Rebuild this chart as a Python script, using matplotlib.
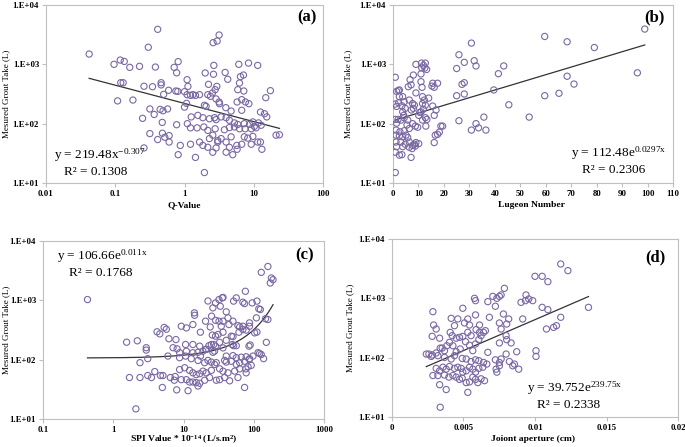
import matplotlib
matplotlib.use("Agg")
import matplotlib.pyplot as plt
import numpy as np
from matplotlib.ticker import NullLocator, FixedLocator

plt.rcParams['font.family'] = ['Liberation Serif', 'DejaVu Serif']
plt.rcParams['mathtext.fontset'] = 'custom'
plt.rcParams['mathtext.rm'] = 'Liberation Serif'
plt.rcParams['mathtext.it'] = 'Liberation Serif:italic'
plt.rcParams['mathtext.bf'] = 'Liberation Serif:bold'

# ---------------- data ----------------
# (a) Q-Value vs grout take
q_value = [
    0.042, 0.41, 0.30, 0.096, 0.118, 0.135, 0.162, 0.224, 0.38, 0.71,
    0.77, 0.81, 0.12, 0.13, 0.108, 0.18, 0.26, 0.345, 0.46, 0.46,
    0.59, 0.50, 0.75, 0.80, 0.316, 0.365, 0.445, 0.49, 0.57, 0.248,
    0.477, 0.77, 0.316, 0.48, 0.41, 0.52, 0.60, 0.60, 0.26, 0.81,
    3.16, 2.96, 2.59, 6.08, 8.4, 11.4, 2.65, 1.99, 2.62, 3.86,
    4.21, 6.43, 7.1, 6.22, 5.88, 7.18, 2.93, 2.77, 2.22, 1.09,
    1.12, 1.0, 17.4, 14.9, 1.09, 1.22, 1.32, 1.44, 1.65, 2.17,
    2.37, 2.53, 2.86, 3.16, 3.2, 5.75, 6.7, 7.6, 8.5, 1.94,
    2.05, 3.95, 4.71, 6.7, 12.5, 14.3, 15.4, 1.25, 1.56, 1.84,
    2.29, 2.71, 2.86, 3.38, 3.99, 4.45, 5.26, 5.88, 7.3, 8.7,
    9.7, 10.2, 11.7, 12.8, 1.22, 1.52, 1.90, 2.17, 2.77, 3.77,
    4.45, 5.26, 6.22, 7.5, 9.2, 10.8, 2.56, 2.29, 3.02, 3.38,
    4.71, 7.3, 8.2, 9.7, 21.0, 23.5, 1.22, 1.65, 1.84, 2.17,
    2.86, 3.02, 3.99, 4.45, 5.69, 6.7, 9.2, 11.4, 12.5, 13.1,
    2.56, 3.99, 4.97, 5.75, 1.44, 1.94, 0.87, 1.0, 1.1, 1.07,
]
grout_a = [
    1490, 3890, 1940, 1000, 1180, 1120, 890, 925, 900, 890,
    720, 1110, 490, 490, 242, 250, 427, 420, 490, 450,
    365, 312, 355, 350, 177, 143, 174, 165, 177, 123,
    105, 96, 68, 69, 54, 59, 63, 49, 39, 30,
    3120, 2470, 2320, 1000, 1050, 960, 960, 715, 680, 730,
    560, 620, 660, 484, 374, 355, 425, 374, 460, 550,
    425, 346, 360, 274, 308, 300, 308, 300, 308, 308,
    289, 329, 261, 232, 217, 232, 254, 232, 217, 204,
    196, 186, 163, 168, 157, 147, 130, 130, 138, 126,
    121, 126, 117, 130, 126, 114, 103, 97, 100, 97,
    107, 90, 103, 94, 85, 85, 88, 77, 82, 79,
    86, 88, 82, 82, 82, 85, 64, 56, 52, 56,
    60, 60, 57, 61, 64, 65, 45, 49, 43, 40,
    39, 49, 49, 40, 43, 45, 45, 49, 49, 37,
    33, 33, 30, 37, 27, 15, 43, 190, 100, 220,
]

# (b) Lugeon number vs grout take
lugeon = [
    59.6, 68.4, 79.1, 98.9, 96.0, 68.4, 71.1, 65.2, 59.6, 53.5,
    45.5, 43.5, 41.4, 39.6, 36.5, 33.6, 32.6, 30.8, 32.6, 31.9,
    30.8, 25.9, 28.0, 25.0, 25.0, 27.1, 28.0, 28.0, 25.9, 35.7,
    0.9, 0.9, 9.0, 11.2, 12.0, 12.7, 11.3, 12.5, 13.2, 8.0,
    6.7, 7.1, 11.0, 11.0, 11.4, 15.6, 17.5, 15.3, 16.2, 2.5,
    2.1, 1.4, 3.8, 2.5, 4.4, 0.9, 1.4, 2.2, 3.5, 4.8,
    3.8, 4.2, 6.4, 7.7, 8.4, 8.0, 7.2, 11.6, 12.3, 11.6,
    12.7, 11.9, 11.0, 10.1, 12.7, 13.3, 15.6, 16.9, 16.2, 0.9,
    2.0, 1.4, 3.1, 4.4, 5.8, 7.7, 8.8, 9.7, 1.2, 2.7,
    4.4, 6.4, 11.6, 12.9, 16.6, 18.2, 18.8, 19.5, 17.5, 16.2,
    1.2, 2.5, 3.8, 5.1, 5.8, 1.2, 3.1, 4.8, 6.4, 7.7,
    8.4, 9.0, 1.4, 3.8, 6.4, 7.5, 8.8, 10.1, 0.9, 2.5,
    3.5, 7.1, 6.0, 9.0, 14.0, 5.5, 10.5,
]
grout_b = [
    2950, 2400, 1920, 3930, 720, 630, 465, 325, 296, 129,
    208, 940, 695, 370, 78, 85, 100, 78, 940, 1150,
    2280, 1450, 1080, 850, 296, 460, 490, 316, 112, 129,
    605, 15, 1000, 1050, 960, 1050, 870, 870, 820, 660,
    550, 450, 690, 510, 410, 480, 480, 430, 410, 370,
    362, 350, 285, 285, 234, 214, 195, 225, 200, 181,
    158, 138, 250, 218, 205, 181, 170, 285, 250, 218,
    205, 175, 158, 138, 126, 118, 198, 170, 138, 118,
    118, 102, 115, 126, 115, 100, 91, 87, 78, 73,
    76, 83, 115, 91, 64, 72, 91, 91, 66, 48,
    64, 62, 60, 64, 58, 49, 49, 45, 49, 43,
    45, 48, 41, 41, 40, 38, 42, 46, 33, 29.5,
    30, 27, 420, 330, 270, 95, 155,
]

# (c) SPI value vs grout take
spi_value = [
    0.43, 1.55, 2.2, 2.95, 2.95, 4.2, 5.3, 5.7, 4.6, 6.2,
    7.8, 7.1, 8.1, 6.0, 2.4, 3.1, 1.7, 2.4, 3.1, 3.5,
    3.9, 4.7, 5.1, 6.5, 7.4, 7.6, 5.0, 8.0, 2.1,
    159, 128, 178, 188, 172, 76, 35.7, 22.3, 28.6, 32.0,
    36.5, 26.2, 33.4, 51.6, 56.4, 70, 74, 95, 111, 118,
    124, 14.3, 14.4, 25.1, 20.6, 28.6, 32.0, 36.5, 40.6, 43.0,
    44.4, 50.6, 59.6, 63, 70, 87, 87, 109, 147, 159,
    11.0, 9.3, 13.6, 17.4, 24.0, 25.7, 28.6, 31.0, 34.5, 36.5,
    40.6, 48.0, 50.6, 61.5, 70, 78, 103, 111, 10.7, 13.6,
    17.0, 20.6, 23.0, 24.9, 26.9, 32.7, 28.6, 36.5, 49.5, 51.6,
    56.4, 85.5, 89, 151, 8.8, 11.0, 13.6, 16.1, 18.9, 21.1,
    26.2, 27.7, 40.6, 50.6, 56.4, 66.5, 78, 87, 97.5, 115,
    128, 138, 121, 8.8, 10.7, 12.9, 16.1, 17.4, 20.0, 22.3,
    24.9, 27.7, 29.3, 38.5, 40.6, 48.0, 56.4, 63, 74, 87,
    92, 83, 77, 8.8, 10.4, 12.2, 13.6, 15.2, 17.0, 18.9,
    21.1, 24.9, 32.7, 36.5, 43.0, 53.5, 63, 78, 9.3, 11.0,
    12.2, 13.6, 15.2, 17.0, 20.0, 23.5, 29.3, 32.7, 38.5, 45.4,
    59.6, 11.6, 16.1, 74,
]
grout_c = [
    1030, 197, 208, 159, 145, 295, 349, 326, 272, 225,
    218, 159, 152, 115, 89, 104, 50, 50, 54, 50,
    63, 54, 54, 50, 45, 52, 34, 31, 14.8,
    3720, 2960, 2380, 2230, 1960, 1420, 1100, 975, 905, 1030,
    1120, 746, 795, 970, 1100, 930, 880, 905, 970, 720,
    700, 615, 560, 541, 445, 460, 445, 445, 640, 507,
    391, 445, 375, 356, 366, 417, 366, 507, 490, 475,
    343, 366, 391, 290, 356, 260, 249, 266, 366, 290,
    212, 249, 245, 290, 322, 315, 283, 292, 180, 180,
    169, 149, 172, 180, 180, 196, 169, 158, 180, 172,
    172, 169, 177, 196, 131, 139, 131, 133, 139, 149,
    133, 139, 115, 117, 108, 110, 112, 101, 115, 131,
    122, 104, 127, 108, 115, 104, 97, 115, 89, 97,
    91, 83, 89, 97, 91, 94, 83, 89, 94, 104,
    80, 76, 70, 68, 73, 66, 60, 56, 58, 64,
    60, 66, 70, 64, 60, 64, 70, 60, 46, 46,
    42, 42, 41, 40, 45, 50, 45, 46, 50, 44,
    50, 30, 36, 34,
]

# (d) joint aperture vs grout take
aperture = [
    0.00286, 0.00291, 0.00309, 0.00281, 0.00333, 0.00337, 0.00351, 0.00258, 0.00281, 0.00309,
    0.00414, 0.00460, 0.00495, 0.00507, 0.00530, 0.00542, 0.00584, 0.00612, 0.00653, 0.00577,
    0.00584, 0.00670, 0.00705, 0.00723, 0.00681, 0.00751, 0.00733, 0.00437, 0.00407, 0.00421,
    0.00449, 0.00472, 0.00495, 0.00530, 0.00553, 0.00588, 0.00612, 0.00640, 0.00367, 0.00384,
    0.00402, 0.00426, 0.00449, 0.00477, 0.00514, 0.00542, 0.00584, 0.00607, 0.00565, 0.00623,
    0.00240, 0.00274, 0.00321, 0.00367, 0.00414, 0.00437, 0.00491, 0.00519, 0.00553, 0.00584,
    0.00607, 0.00640, 0.00670, 0.00723, 0.00751, 0.00309, 0.00333, 0.00356, 0.00379, 0.00402,
    0.00437, 0.00460, 0.00484, 0.00495, 0.00519, 0.00542, 0.00565, 0.00584, 0.00607, 0.00635,
    0.00663, 0.00728, 0.00733, 0.00286, 0.00321, 0.00367, 0.00398, 0.00426, 0.00449, 0.00472,
    0.00491, 0.00519, 0.00542, 0.00565, 0.00584, 0.00600, 0.00623, 0.00647, 0.00333, 0.00379,
    0.00530, 0.00337,
    0.0118, 0.0123, 0.0100, 0.0105, 0.0109, 0.00786, 0.00763, 0.00937, 0.00956, 0.00902,
    0.00933, 0.00984, 0.0105, 0.0109, 0.0118, 0.01374, 0.00779, 0.00816, 0.00751, 0.00802,
    0.00763, 0.00914, 0.0108, 0.0113, 0.0115, 0.00798, 0.00833, 0.00751, 0.00802, 0.01007,
    0.01007, 0.00872, 0.00798, 0.00763, 0.00821, 0.00856, 0.00844, 0.00886, 0.00751,
]
grout_d = [
    596, 355, 304, 229, 213, 145, 145, 115, 111, 120,
    460, 449, 680, 385, 449, 355, 525, 355, 285, 1000,
    914, 880, 1080, 735, 479, 1080, 1000, 346, 267, 235,
    213, 220, 228, 267, 235, 297, 267, 267, 131, 159,
    181, 159, 126, 140, 186, 162, 170, 201, 131, 235,
    115, 105, 108, 101, 95, 108, 97, 95, 86, 92,
    89, 83, 123, 92, 83, 66, 60, 69, 64, 71,
    66, 69, 66, 57, 60, 69, 64, 57, 66, 69,
    78, 64, 57, 50, 50, 51, 47, 50, 47, 43,
    45, 38, 39, 47, 43, 38, 44, 41, 35, 29,
    26, 14.6,
    3790, 2930, 2350, 2350, 1910, 1475, 1140, 1140, 975, 855,
    914, 914, 705, 644, 479, 705, 545, 449, 384, 369,
    304, 449, 304, 324, 346, 235, 177, 177, 201, 131,
    105, 126, 115, 95, 86, 78, 73, 64, 73,
]

y_ticks = [10, 100, 1000, 10000]
y_tick_labels = ['1.E+01', '1.E+02', '1.E+03', '1.E+04']

# ---------------- figure ----------------
W, H = 685, 447
fig = plt.figure(figsize=(W / 100, H / 100), dpi=100)

def px_axes(l, t, r, b):
    return fig.add_axes([l / W, 1 - b / H, (r - l) / W, (b - t) / H])

MARK = '#7a68a3'
GRID = '#bfbfbf'
LINE = '#333333'

def style(ax):
    ax.set_yscale('log')
    ax.set_ylim(10, 10000)
    ax.yaxis.set_major_locator(FixedLocator(y_ticks))
    ax.yaxis.set_minor_locator(NullLocator())
    ax.set_yticklabels(y_tick_labels)
    for s in ax.spines.values():
        s.set_color(GRID)
        s.set_linewidth(0.8)
    ax.tick_params(axis='both', which='both', direction='out', length=3,
                   width=0.8, color=GRID, labelsize=6.3, pad=2)
    for lab in ax.get_xticklabels() + ax.get_yticklabels():
        lab.set_fontweight('bold')

def scatter(ax, x, y):
    ax.scatter(x, y, s=20, facecolors='none', edgecolors=MARK, linewidths=0.8, zorder=3)

def ftext(x, y, s, **kw):
    fig.text(x / W, 1 - y / H, s, **kw)

# (a)
ax = px_axes(46, 5, 323, 183)
scatter(ax, q_value, grout_a)
xa = np.logspace(np.log10(min(q_value)), np.log10(max(q_value)), 100)
ax.plot(xa, 219.48 * xa ** -0.307, color=LINE, lw=0.9, zorder=2)
ax.set_xscale('log')
ax.set_xlim(0.01, 100)
ax.xaxis.set_major_locator(FixedLocator([0.01, 0.1, 1, 10, 100]))
ax.xaxis.set_minor_locator(NullLocator())
ax.set_xticklabels(['0.01', '0.1', '1', '10', '100'])
style(ax)

# (b)
ax = px_axes(393, 5, 673, 183)
scatter(ax, lugeon, grout_b)
xb = np.linspace(min(lugeon), max(lugeon), 100)
ax.plot(xb, 112.48 * np.exp(0.0297 * xb), color=LINE, lw=0.9, zorder=2)
ax.set_xlim(0, 110)
ax.set_xticks(range(0, 111, 10))
style(ax)

# (c)
ax = px_axes(43, 241, 324, 419)
scatter(ax, spi_value, grout_c)
xc = np.logspace(np.log10(min(spi_value)), np.log10(188), 200)
ax.plot(xc, 106.66 * np.exp(0.011 * xc), color=LINE, lw=0.9, zorder=2)
ax.set_xscale('log')
ax.set_xlim(0.1, 1000)
ax.xaxis.set_major_locator(FixedLocator([0.1, 1, 10, 100, 1000]))
ax.xaxis.set_minor_locator(NullLocator())
ax.set_xticklabels(['0.1', '1', '10', '100', '1000'])
style(ax)

# (d)
ax = px_axes(392, 239, 678, 417)
scatter(ax, aperture, grout_d)
xd = np.linspace(min(aperture), max(aperture), 100)
ax.plot(xd, 39.752 * np.exp(239.75 * xd), color=LINE, lw=0.9, zorder=2)
ax.set_xlim(0, 0.02)
ax.set_xticks([0, 0.005, 0.01, 0.015, 0.02])
ax.set_xticklabels(['0', '0.005', '0.01', '0.015', '0.02'])
style(ax)

# text
EQ = dict(fontsize=9.5, ha='left', va='center')
ftext(54, 155, r'y = 219.48x$^{\mathregular{-0.307}}$', **EQ)
ftext(64, 172, 'R² = 0.1308', **EQ)
ftext(571, 153, r'y = 112.48e$^{\mathregular{0.0297x}}$', **EQ)
ftext(582, 170, 'R² = 0.2306', **EQ)
ftext(57, 256, r'y = 106.66e$^{\mathregular{0.011x}}$', **EQ)
ftext(69, 273, 'R² = 0.1768', **EQ)
ftext(527, 388, r'y = 39.752e$^{\mathregular{239.75x}}$', **EQ)
ftext(537, 405, 'R² = 0.2338', **EQ)

PL = dict(fontsize=12, fontweight='bold', ha='center', va='center')
ftext(307, 17, '(a)', **PL)
ftext(654, 17, '(b)', **PL)
ftext(305, 255, '(c)', **PL)
ftext(655, 257, '(d)', **PL)

XL = dict(fontsize=6.8, fontweight='bold', ha='center', va='center')
ftext(184, 205, 'Q-Value', **XL)
ftext(531, 205, 'Lugeon Number', **XL)
ftext(184, 440, r'SPI Value * 10$^{\mathregular{-14}}$ (L/s.m$^{\mathregular{2}}$)', **XL)
ftext(533, 439, 'Joiont aperture (cm)', **XL)

YL = dict(fontsize=6.5, ha='center', va='center', rotation=90)
ftext(6, 94, 'Mesured Grout Take (L)', **YL)
ftext(348, 94, 'Mesured Grout Take (L)', **YL)
ftext(6, 330, 'Mesured Grout Take (L)', **YL)
ftext(350, 328, 'Mesured Grout Take (L)', **YL)

fig.savefig('out.png', dpi=100)
